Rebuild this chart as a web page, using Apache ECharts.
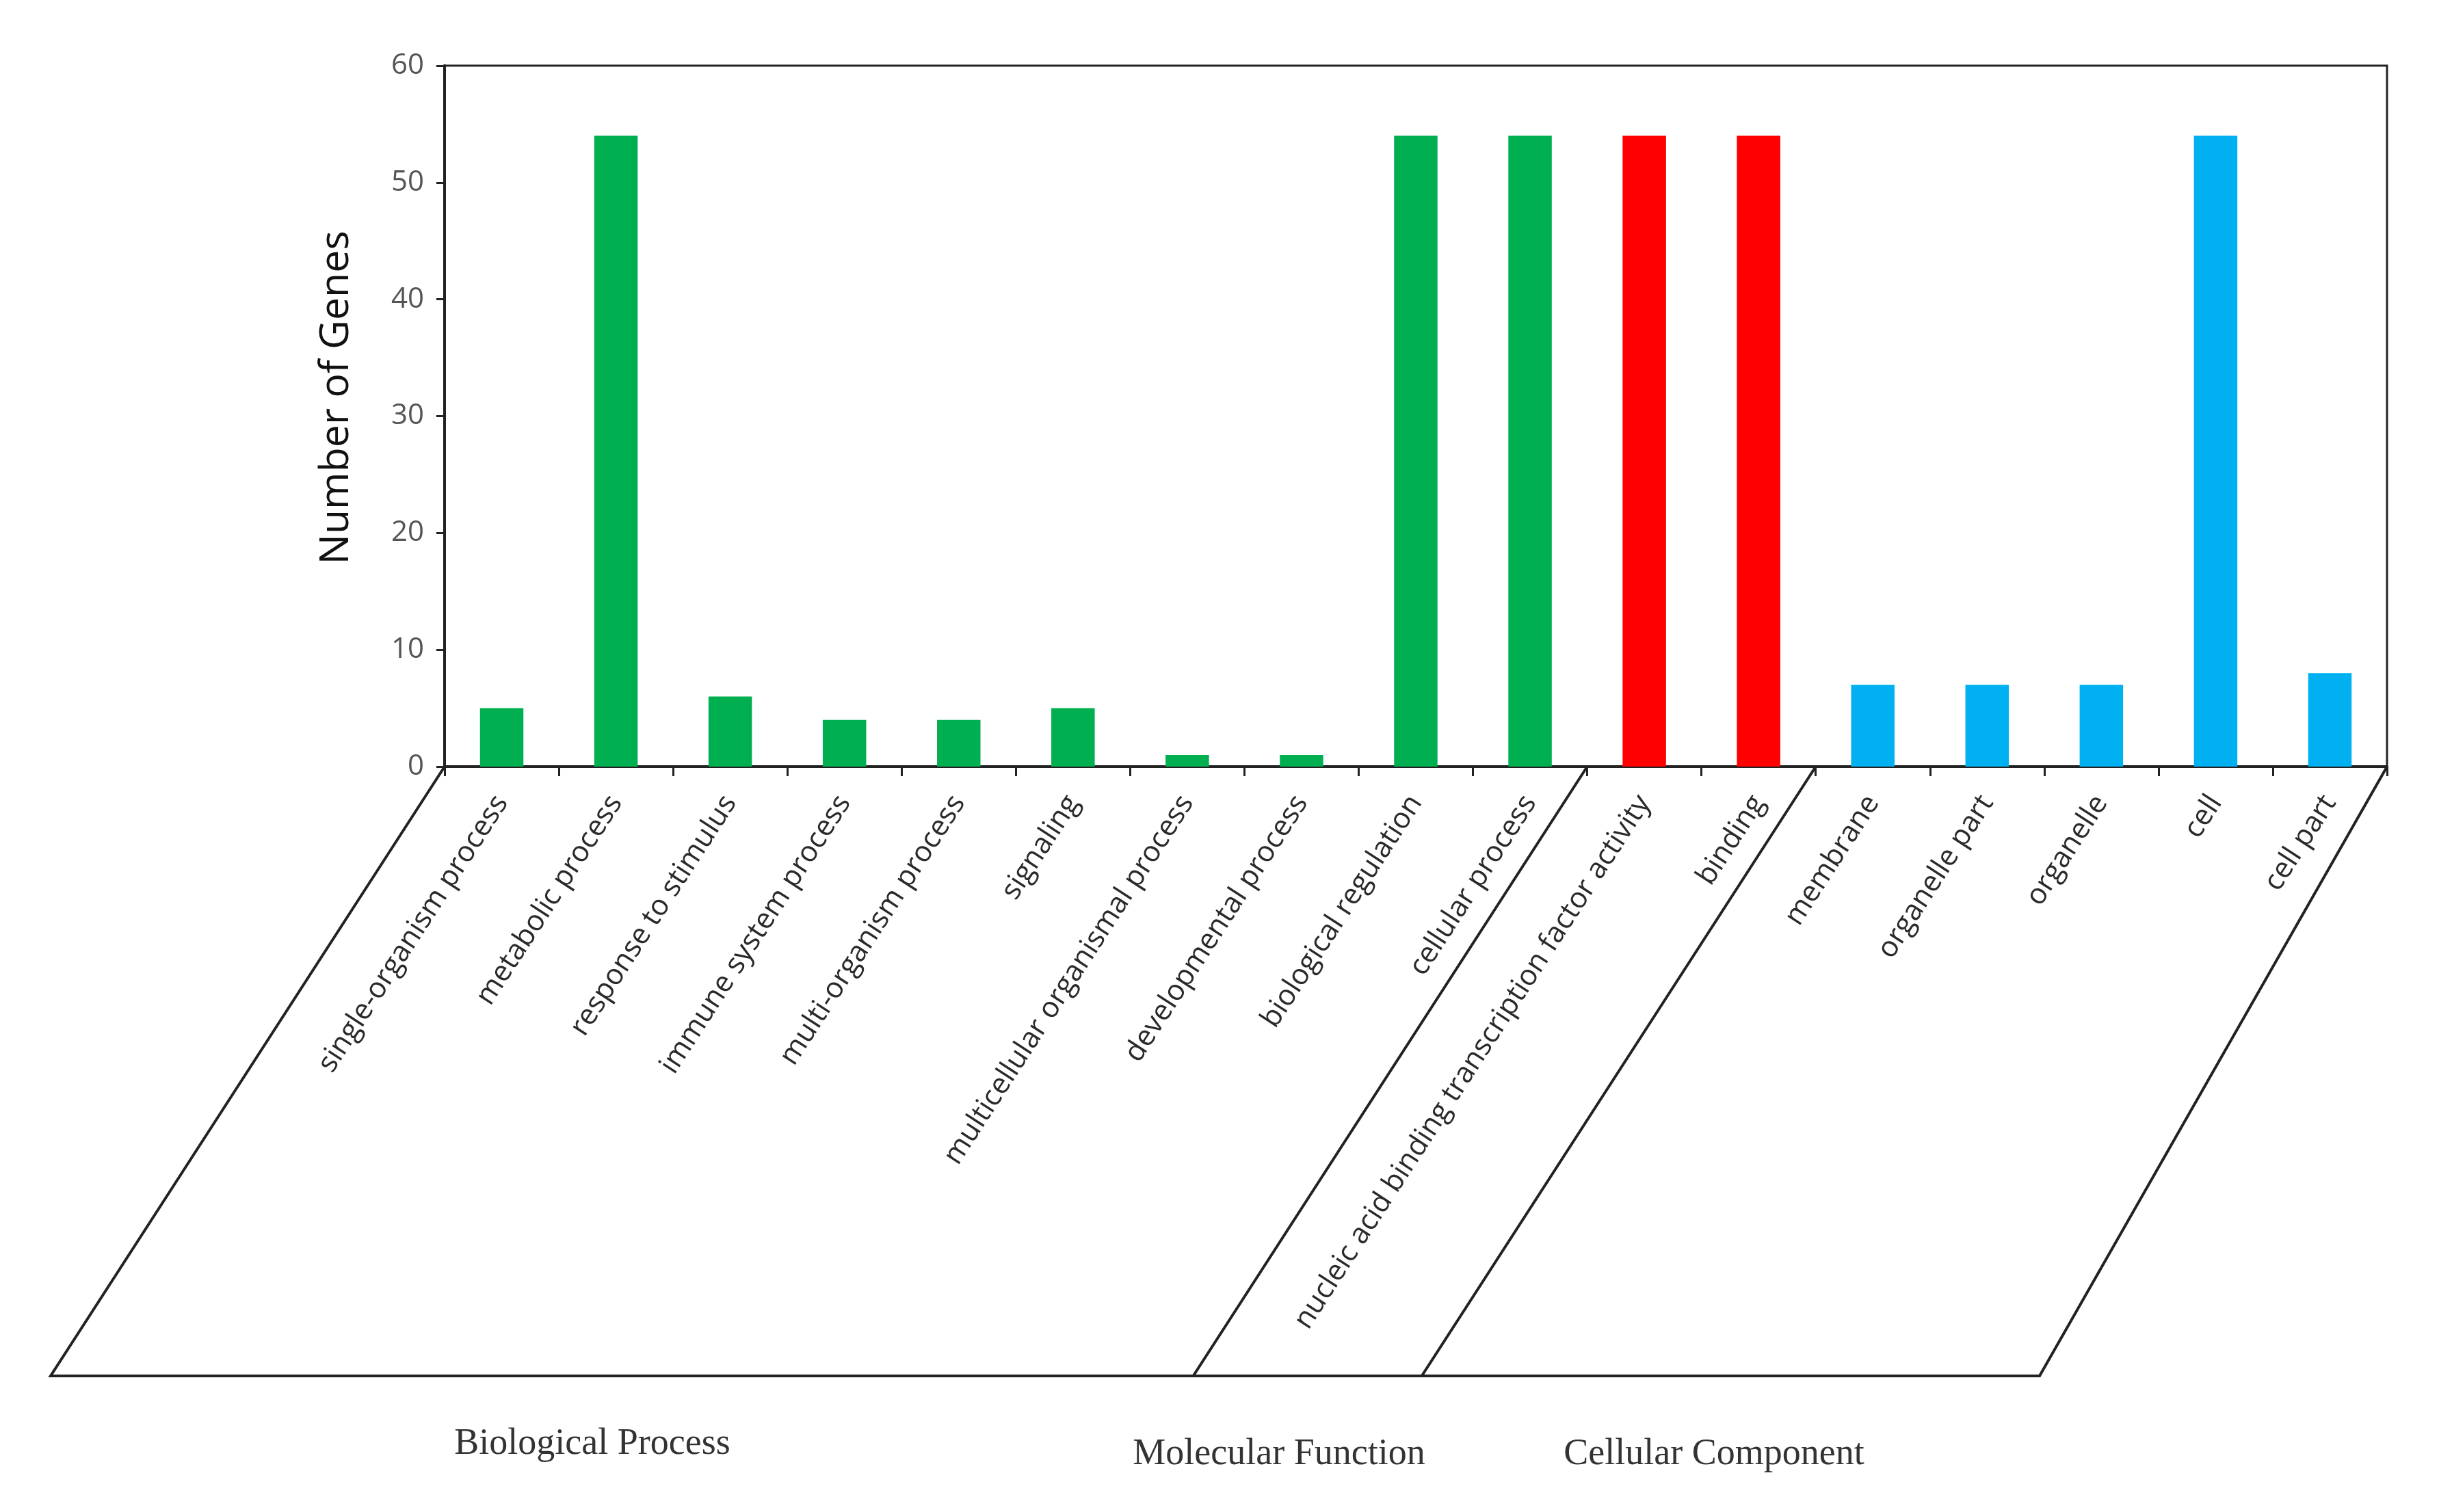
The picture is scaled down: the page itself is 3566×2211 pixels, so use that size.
<!DOCTYPE html>
<html>
<head>
<meta charset="utf-8">
<script src="https://cdn.jsdelivr.net/npm/echarts@6/dist/echarts.min.js"></script>
<style>html,body{margin:0;padding:0;background:#fff;}#c{width:3566px;height:2211px;}</style>
</head>
<body>
<div id="c"></div>
<script>
const categories = ["single-organism process","metabolic process","response to stimulus","immune system process","multi-organism process","signaling","multicellular organismal process","developmental process","biological regulation","cellular process","nucleic acid binding transcription factor activity","binding","membrane","organelle part","organelle","cell","cell part"];
const values = [5,54,6,4,4,5,1,1,54,54,54,54,7,7,7,54,8];
const groupOf = ["BP","BP","BP","BP","BP","BP","BP","BP","BP","BP","MF","MF","CC","CC","CC","CC","CC"];
const groupNames = ["Biological Process","Molecular Function","Cellular Component"];
const groupColors = {BP:"#00B050", MF:"#FF0000", CC:"#00B0F0"};
const yTicks = [0,10,20,30,40,50,60];

const W = 3566, H = 2211;
const gL = 650, gR = 76, gT = 96, gB = 1090;
const plotW = W - gL - gR;
const baseY = H - gB;
const botY = 2012;
const step = plotW / categories.length;
const bx = k => gL + step * k;
const shift = 576;

const lineStyle = {stroke:"#222", lineWidth:4, fill:null};
const gFont = "54px 'Liberation Serif'";
const graphics = [
  {type:"polyline", shape:{points:[[bx(0),baseY],[bx(0)-shift,botY],[bx(10)-shift,botY],[bx(10),baseY]]}, style:lineStyle},
  {type:"polyline", shape:{points:[[bx(10)-shift,botY],[bx(12)-shift,botY],[bx(12),baseY]]}, style:lineStyle},
  {type:"polyline", shape:{points:[[bx(12)-shift,botY],[bx(17)-508,botY],[bx(17),baseY]]}, style:lineStyle},
  {type:"text", x:866, y:2112, style:{text:groupNames[0], font:gFont, fill:"#333", textAlign:"center", textVerticalAlign:"middle"}},
  {type:"text", x:1870, y:2127, style:{text:groupNames[1], font:gFont, fill:"#333", textAlign:"center", textVerticalAlign:"middle"}},
  {type:"text", x:2506, y:2127, style:{text:groupNames[2], font:gFont, fill:"#333", textAlign:"center", textVerticalAlign:"middle"}}
];

const chart = echarts.init(document.getElementById('c'));
chart.setOption({
  animation:false,
  backgroundColor:"#fff",
  grid:{left:gL, right:gR, top:gT, bottom:gB, show:true, borderColor:"#222", borderWidth:3},
  xAxis:{
    type:"category", data:categories,
    axisLine:{lineStyle:{color:"#222", width:4}},
    axisTick:{show:true, length:14, lineStyle:{color:"#222", width:3}},
    axisLabel:{rotate:57, interval:0, margin:46, fontFamily:"Open Sans", fontSize:42, color:"#2a2a2a"}
  },
  yAxis:{
    type:"value", min:0, max:60, interval:10,
    name:"Number of Genes", nameLocation:"middle", nameGap:128, nameRotate:90,
    nameTextStyle:{fontFamily:"Open Sans", fontSize:59, color:"#111", padding:[0,0,0,54]},
    splitLine:{show:false},
    axisLine:{show:true, lineStyle:{color:"#222", width:4}},
    axisTick:{show:true, length:12, lineStyle:{color:"#222", width:3}},
    axisLabel:{margin:30, fontFamily:"Open Sans", fontSize:42, color:"#555"}
  },
  series:[{
    type:"bar", barWidth:"38%",
    data: values.map((v,i)=>({value:v, itemStyle:{color:groupColors[groupOf[i]]}}))
  }],
  graphic: graphics
});
</script>
</body>
</html>
